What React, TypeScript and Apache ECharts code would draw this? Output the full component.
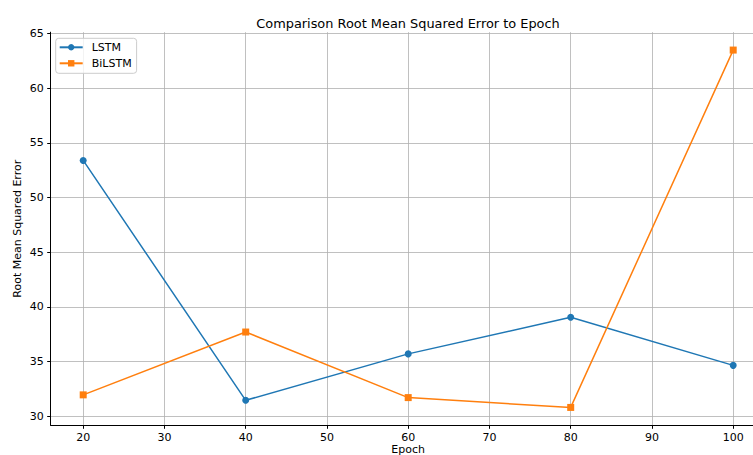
import React, { useEffect, useRef } from "react";
import * as echarts from "echarts";

const epochs = [20, 40, 60, 80, 100];
const lstm = [53.4, 31.45, 35.7, 39.05, 34.65];
const bilstm = [31.95, 37.7, 31.7, 30.8, 63.5];
const xTicks = [20, 30, 40, 50, 60, 70, 80, 90, 100];
const yTicks = [30, 35, 40, 45, 50, 55, 60, 65];
const titleText = "Comparison Root Mean Squared Error to Epoch";

const FONT = "DejaVu Sans";

export default function App() {
  const ref = useRef<HTMLDivElement>(null);
  useEffect(() => {
    const chart = echarts.init(ref.current!, undefined, { renderer: "svg" });
    const toPairs = (ys: number[]) => epochs.map((x, i) => [x, ys[i]]);
    chart.setOption({
      animation: false,
      backgroundColor: "#ffffff",
      textStyle: { fontFamily: FONT },
      title: {
        text: titleText,
        left: 403,
        top: 12,
        textAlign: "center",
        textStyle: { fontFamily: FONT, fontSize: 12.9, fontWeight: "normal", color: "#000" },
      },
      legend: {
        orient: "vertical",
        left: 55.7,
        top: 38.3,
        padding: [3, 5, 4, 3],
        itemGap: 4,
        itemWidth: 23,
        itemHeight: 8,
        backgroundColor: "rgba(255,255,255,0.8)",
        borderColor: "#cccccc",
        borderWidth: 1,
        borderRadius: 3,
        textStyle: { fontFamily: FONT, fontSize: 11, color: "#000", lineHeight: 12, padding: [0, 0, 0, 4] },
        data: [{ name: "LSTM" }, { name: "BiLSTM" }],
      },
      grid: {
        left: 50.7,
        top: 32.2,
        width: 715,
        height: 393.1,
        containLabel: false,
        outerBoundsMode: "none",
      },
      xAxis: {
        type: "value",
        min: 16,
        max: 104,
        name: "Epoch",
        nameLocation: "middle",
        nameGap: 19,
        nameMoveOverlap: false,
        nameTextStyle: { fontFamily: FONT, fontSize: 11, lineHeight: 10, color: "#000", verticalAlign: "top" },
        axisLine: { show: true, lineStyle: { color: "#000", width: 1 } },
        axisTick: { show: true, length: 3.5, customValues: xTicks, lineStyle: { color: "#000", width: 1 } },
        axisLabel: { margin: 7, customValues: xTicks, fontFamily: FONT, fontSize: 11, lineHeight: 11, color: "#000" },
        splitLine: { show: true, customValues: xTicks, lineStyle: { color: "#b0b0b0", width: 0.8 } },
      },
      yAxis: {
        type: "value",
        min: 29.165,
        max: 65.135,
        name: "Root Mean Squared Error",
        nameLocation: "middle",
        nameGap: 28,
        nameMoveOverlap: false,
        nameTextStyle: { fontFamily: FONT, fontSize: 11, color: "#000" },
        axisLine: { show: true, lineStyle: { color: "#000", width: 1 } },
        axisTick: { show: true, length: 3.5, customValues: yTicks, lineStyle: { color: "#000", width: 1 } },
        axisLabel: { margin: 7, customValues: yTicks, fontFamily: FONT, fontSize: 11, color: "#000" },
        splitLine: { show: true, customValues: yTicks, lineStyle: { color: "#b0b0b0", width: 0.8 } },
      },
      series: [
        {
          name: "LSTM",
          type: "line",
          data: toPairs(lstm),
          symbol: "circle",
          symbolSize: 7,
          showAllSymbol: true,
          itemStyle: { color: "#1f77b4" },
          lineStyle: { color: "#1f77b4", width: 1.5 },
        },
        {
          name: "BiLSTM",
          type: "line",
          data: toPairs(bilstm),
          symbol: "rect",
          symbolSize: 7,
          showAllSymbol: true,
          itemStyle: { color: "#ff7f0e" },
          lineStyle: { color: "#ff7f0e", width: 1.5 },
        },
      ],
    });
    return () => chart.dispose();
  }, []);
  return (
    <div
      ref={ref}
      style={{ position: "fixed", left: 0, top: 0, width: 753, height: 455, overflow: "hidden" }}
    />
  );
}
